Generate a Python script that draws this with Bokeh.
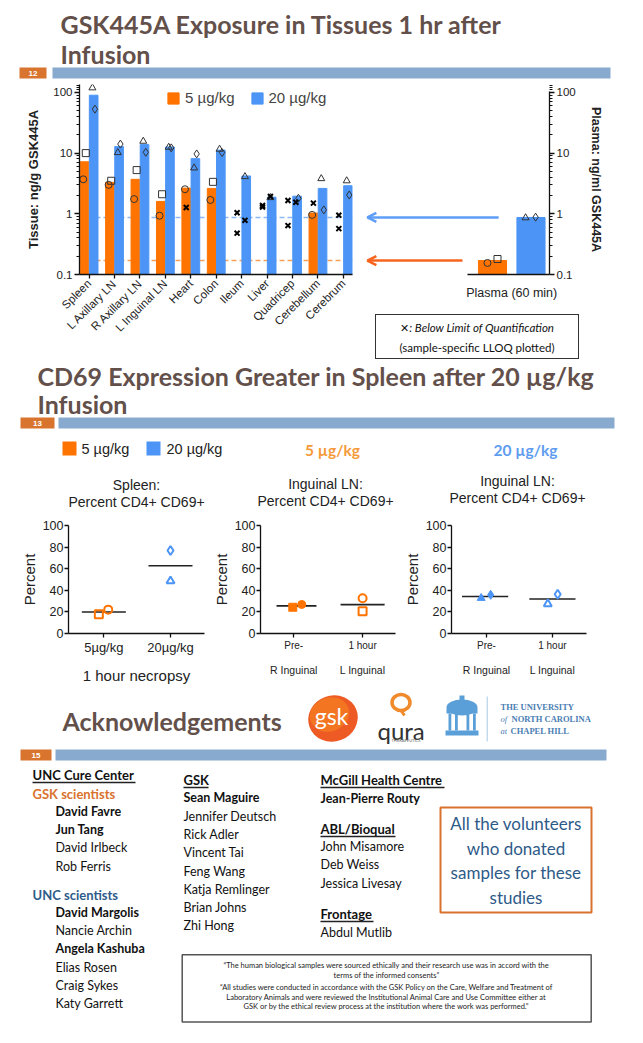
import math
import numpy as np
from bokeh.plotting import figure
from bokeh.models import (Range1d, FixedTicker, LinearAxis, Span, Arrow, OpenHead,
                          Legend, LegendItem, CustomJSTickFormatter, Div)
from bokeh.layouts import column, row
from bokeh.embed import file_html
from bokeh.resources import INLINE
from bokeh.core.properties import value

NAN = float("nan")

# ---------------- data: tissue exposure ----------------
tissues = ["Spleen", "L Axillary LN", "R Axillary LN", "L Inguinal LN", "Heart", "Colon",
           "Ileum", "Liver", "Quadricep", "Cerebellum", "Cerebrum"]
doses = ["5 \u00b5g/kg", "20 \u00b5g/kg"]
tissue_mean_5 = [7.2, 3.3, 3.7, 1.6, 2.65, 2.62, NAN, NAN, NAN, 1.03, NAN]
tissue_mean_20 = [90, 12.8, 13.8, 12.6, 8.1, 11.2, 4.2, 1.88, 1.95, 2.62, 2.9]
tissue_5_square = [10, 3.5, 5.25, 2.1, NAN, 3.36, NAN, NAN, NAN, NAN, NAN]
tissue_5_circle = [3.7, 3.0, 1.75, 0.93, 2.54, 1.69, NAN, NAN, NAN, 0.96, NAN]
tissue_5_blq_a = [NAN, NAN, NAN, NAN, 1.27, NAN, 1.04, 1.37, 1.66, 1.5, 0.95]
tissue_5_blq_b = [NAN, NAN, NAN, NAN, NAN, NAN, 0.48, 1.29, 0.64, NAN, 0.57]
tissue_20_triangle = [119, 10.2, 15.7, 12.5, 5.7, 11.6, 4.1, 1.85, NAN, 3.8, 3.5]
tissue_20_diamond = [53, 14.1, 10.3, 12.2, 9.7, 10.2, NAN, NAN, 1.8, 1.16, 2.04]
tissue_20_blq = [NAN, NAN, NAN, NAN, NAN, NAN, 0.78, 1.93, 1.55, NAN, NAN]
log_ticks = [0.1, 1, 10, 100]

plasma_label = "Plasma (60 min)"
plasma_mean = [0.17, 0.87]          # 5, 20 ug/kg
plasma_5 = [0.155, 0.18]            # circle, square
plasma_20 = [0.86, 0.88]            # triangle, diamond
note_lines = [": Below Limit of Quantification", "(sample-specific LLOQ plotted)"]

# ---------------- data: CD69 ----------------
spleen_labels = ["5\u00b5g/kg", "20\u00b5g/kg"]
spleen_5 = [17.8, 22.1]             # square, circle
spleen_20 = [76.9, 48.6]            # diamond, triangle
ln_labels = ["Pre-", "1 hour"]
ln_labels_2 = ["R Inguinal", "L Inguinal"]
ln5_pre = [24.3, 26.9]              # square, circle (filled)
ln5_1h = [20.7, 32.7]               # square, circle (open)
ln20_pre = [32.8, 35.8]             # triangle, diamond (filled)
ln20_1h = [27.4, 36.4]              # triangle, diamond (open)
pct_ticks = [0, 20, 40, 60, 80, 100]

# ---------------- text ----------------
title1 = ["GSK445A Exposure in Tissues 1 hr after", "Infusion"]
title2 = ["CD69 Expression Greater in Spleen after 20 \u00b5g/kg", "Infusion"]
col1 = [("UNC Cure Center", "head"), ("GSK scientists", "orange"), ("David Favre", "b"),
        ("Jun Tang", "b"), ("David Irlbeck", "n"), ("Rob Ferris", "n"), ("UNC scientists", "blue"),
        ("David Margolis", "b"), ("Nancie Archin", "n"), ("Angela Kashuba", "b"),
        ("Elias Rosen", "n"), ("Craig Sykes", "n"), ("Katy Garrett", "n")]
col2 = [("GSK", "head"), ("Sean Maguire", "b"), ("Jennifer Deutsch", "n"), ("Rick Adler", "n"),
        ("Vincent Tai", "n"), ("Feng Wang", "n"), ("Katja Remlinger", "n"), ("Brian Johns", "n"),
        ("Zhi Hong", "n")]
col3 = [("McGill Health Centre", "head"), ("Jean-Pierre Routy", "b"), ("ABL/Bioqual", "head"),
        ("John Misamore", "n"), ("Deb Weiss", "n"), ("Jessica Livesay", "n"), ("Frontage", "head"),
        ("Abdul Mutlib", "n")]
volunteers = ["All the volunteers", "who donated", "samples for these", "studies"]
quote = ["\u201cThe human biological samples were sourced ethically and their research use was in accord with the",
         "terms of the informed consents\u201d",
         "\u201cAll studies were conducted in accordance with the GSK Policy on the Care, Welfare and Treatment of",
         "Laboratory Animals and were reviewed the Institutional Animal Care and Use Committee either at",
         "GSK or by the ethical review process at the institution where the work was performed.\u201d"]

# ---------------- styles ----------------
ORANGE = "#FF7400"
BLUE = "#4C95F6"
BROWN = "#63504A"
SEC_OR = "#D9742F"
SEC_BL = "#88AACF"
DARK = "#111111"
SANS = "Liberation Sans"
POSTER = "Lato"


def deco(w, h):
    f = figure(width=w, height=h, x_range=Range1d(0, w), y_range=Range1d(h, 0),
               output_backend="svg", toolbar_location=None, min_border=0, title=None,
               x_axis_location=None, y_axis_location=None)
    f.grid.visible = False
    f.outline_line_color = None
    return f


def T(f, x, y, s, size, color=DARK, style="normal", font=POSTER, align="left", baseline="middle"):
    f.text(x=[x], y=[y], text=[s], text_font=value(font), text_font_size=size,
           text_font_style=style, text_color=color, text_align=align, text_baseline=baseline)


def box(f, x0, x1, y0, y1, color, fill=None, lw=1.0):
    f.quad(left=[x0], right=[x1], top=[y0], bottom=[y1], fill_color=fill,
           line_color=color, line_width=lw)


def section_bar(f, y0, y1, ox0, ox1, bx0, bx1, label):
    f.quad(left=[ox0], right=[ox1], top=[y0], bottom=[y1], fill_color=SEC_OR, line_color=None)
    f.quad(left=[bx0], right=[bx1], top=[y0], bottom=[y1], fill_color=SEC_BL, line_color=None)
    T(f, (ox0 + ox1) / 2, (y0 + y1) / 2 + 0.5, label, "8px", "white", "bold", SANS, "center")


def style_axis(ax, size="12px"):
    ax.axis_line_color = DARK
    ax.axis_line_width = 1.3
    ax.major_tick_line_color = DARK
    ax.major_tick_line_width = 1.3
    ax.major_tick_in = 0
    ax.major_tick_out = 4
    ax.minor_tick_line_color = None
    ax.major_label_text_font = SANS
    ax.major_label_text_font_size = size
    ax.major_label_text_color = "#222222"
    ax.axis_label_text_font = SANS
    ax.axis_label_text_color = "#222222"
    ax.axis_label_text_font_style = "normal"


# ================= header 1 =================
h1 = deco(627, 76)
T(h1, 52, 15, title1[0], "25px", BROWN, "bold")
T(h1, 52, 45, title1[1], "25px", BROWN, "bold")
section_bar(h1, 59, 70, 11, 38, 44, 602, "12")

# ================= tissue chart =================
x_idx = np.arange(len(tissues))
OFF = 0.18
p1 = figure(width=354, height=276, x_range=Range1d(-0.377, 10.358), y_range=Range1d(0.1, 135),
            y_axis_type="log", output_backend="svg", toolbar_location=None, title=None,
            min_border_left=71, min_border_right=10, min_border_top=0, min_border_bottom=86)
p1.grid.visible = False
p1.outline_line_color = None
p1.add_layout(Span(location=plasma_mean[1], dimension="width", line_color="#8DB8F5",
                   line_dash="5 3", line_width=1.6, level="underlay"))
p1.add_layout(Span(location=plasma_mean[0], dimension="width", line_color="#F7A05A",
                   line_dash="5 3", line_width=1.6, level="underlay"))
r5 = p1.vbar(x=x_idx - OFF, top=tissue_mean_5, bottom=0.1, width=0.34, fill_color=ORANGE,
             line_color=ORANGE)
r20 = p1.vbar(x=x_idx + OFF, top=tissue_mean_20, bottom=0.1, width=0.34, fill_color=BLUE,
              line_color=BLUE)
MK = dict(size=7, fill_color=None, line_color="#333333", line_width=1)
p1.scatter(x_idx - OFF + 0.05, tissue_5_square, marker="square", **MK)
p1.scatter(x_idx - OFF - 0.05, tissue_5_circle, marker="circle", **MK)
p1.scatter(x_idx + OFF - 0.05, tissue_20_triangle, marker="triangle", **MK)
p1.scatter(x_idx + OFF + 0.05, tissue_20_diamond, marker="diamond", size=8, fill_color=None,
           line_color="#333333", line_width=1)
XK = dict(marker="x", size=7, line_color="#000000", line_width=2)
p1.scatter(x_idx - OFF, tissue_5_blq_a, **XK)
p1.scatter(x_idx - OFF, tissue_5_blq_b, **XK)
p1.scatter(x_idx + OFF - 0.05, tissue_20_blq, **XK)

style_axis(p1.xaxis[0], "11.5px")
p1.xaxis.ticker = FixedTicker(ticks=list(range(len(tissues))))
p1.xaxis.major_label_overrides = {i: t for i, t in enumerate(tissues)}
p1.xaxis.major_label_orientation = math.pi / 4
p1.xaxis.major_label_standoff = 3
minor = [m * 10.0 ** e for e in (-1, 0, 1) for m in range(2, 10)] + [110, 120, 130]
style_axis(p1.yaxis[0], "11.5px")
p1.yaxis.ticker = FixedTicker(ticks=log_ticks, minor_ticks=minor)
p1.yaxis.formatter = CustomJSTickFormatter(code="return String(tick)")
p1.yaxis.minor_tick_line_color = DARK
p1.yaxis.minor_tick_out = 3
p1.yaxis.minor_tick_in = 0
p1.yaxis.major_tick_out = 5
p1.yaxis.major_label_standoff = 2
p1.yaxis.axis_label = "Tissue: ng/g GSK445A"
p1.yaxis.axis_label_text_font_style = "bold"
p1.yaxis.axis_label_text_font_size = "13px"
p1.yaxis.axis_label_standoff = 9

legend = Legend(items=[LegendItem(label=value(doses[0]), renderers=[r5]),
                       LegendItem(label=value(doses[1]), renderers=[r20])],
                orientation="horizontal", location=(87, 168), padding=0, margin=0, spacing=15,
                glyph_width=14, glyph_height=14, label_height=14, label_standoff=5,
                label_text_font=SANS, label_text_font_size="15px",
                border_line_color=None, background_fill_alpha=0)
p1.add_layout(legend)

# ================= plasma chart =================
p2 = figure(width=273, height=221, x_range=Range1d(-3.377, 1.481), y_range=Range1d(0.1, 135),
            y_axis_type="log", y_axis_location="right", output_backend="svg",
            toolbar_location=None, title=None, min_border_left=0, min_border_right=86,
            min_border_top=0, min_border_bottom=31)
p2.grid.visible = False
p2.outline_line_color = None
p2.vbar(x=[0, 1], top=plasma_mean, bottom=0.1, width=0.73, fill_color=[ORANGE, BLUE],
        line_color=[ORANGE, BLUE])
p2.scatter([-0.13], [plasma_5[0]], marker="circle", **MK)
p2.scatter([0.13], [plasma_5[1]], marker="square", **MK)
p2.scatter([0.86], [plasma_20[0]], marker="triangle", **MK)
p2.scatter([1.12], [plasma_20[1]], marker="diamond", size=8, fill_color=None,
           line_color="#333333", line_width=1)
p2.add_layout(Arrow(end=OpenHead(size=9, line_color="#5C9EF8", line_width=2.5),
                    x_start=0.16, y_start=plasma_mean[1], x_end=-3.25, y_end=plasma_mean[1],
                    line_color="#5C9EF8", line_width=2.5))
p2.add_layout(Arrow(end=OpenHead(size=9, line_color="#F7641E", line_width=2.5),
                    x_start=-0.78, y_start=plasma_mean[0], x_end=-3.25, y_end=plasma_mean[0],
                    line_color="#F7641E", line_width=2.5))
style_axis(p2.xaxis[0], "12.5px")
p2.xaxis.bounds = (-0.65, 1.481)
p2.xaxis.ticker = FixedTicker(ticks=[0.5])
p2.xaxis.major_label_overrides = {0.5: plasma_label}
p2.xaxis.major_tick_out = 0
p2.xaxis.major_label_standoff = 11
style_axis(p2.yaxis[0], "11.5px")
p2.yaxis.bounds = (0.1, 105)
p2.yaxis.ticker = FixedTicker(ticks=log_ticks, minor_ticks=minor)
p2.yaxis.formatter = CustomJSTickFormatter(code="return String(tick)")
p2.yaxis.minor_tick_line_color = DARK
p2.yaxis.minor_tick_out = 3
p2.yaxis.minor_tick_in = 0
p2.yaxis.major_tick_out = 5
p2.yaxis.major_label_standoff = 2
p2.yaxis.axis_label = "Plasma: ng/ml GSK445A"
p2.yaxis.axis_label_text_font_style = "bold"
p2.yaxis.axis_label_text_font_size = "12.5px"
p2.yaxis.axis_label_standoff = 10

# note box under the plasma chart (HTML block with fixed pixel geometry)
note_html = (
    '<div style="margin:9px 0 0 13px;width:204px;height:45px;box-sizing:border-box;'
    'border:1.2px solid #333;font-family:Lato,sans-serif;font-size:11.5px;color:#111;'
    'text-align:center;line-height:19px;padding-top:3px;white-space:nowrap;">'
    '<span style="font-family:\'DejaVu Sans\',sans-serif;font-weight:bold;font-size:11px;">'
    '&#x2715;</span><i>' + note_lines[0] + '</i><br>' + note_lines[1] + '</div>'
)
note = Div(text=note_html, width=273, height=55, margin=0)

# ================= header 2 =================
h2 = deco(627, 152)
T(h2, 29, 15, title2[0], "25px", BROWN, "bold")
T(h2, 29, 43, title2[1], "25px", BROWN, "bold")
section_bar(h2, 57, 68, 12, 46, 50, 606, "13")
h2.quad(left=[54], right=[68], top=[81], bottom=[95], fill_color=ORANGE, line_color=None)
T(h2, 73, 88, doses[0], "14.5px", "#222222", font=SANS)
h2.quad(left=[138], right=[152], top=[81], bottom=[95], fill_color=BLUE, line_color=None)
T(h2, 158, 88, doses[1], "14.5px", "#222222", font=SANS)
T(h2, 324, 89, doses[0], "15.5px", "#F59A3A", "bold", align="center")
T(h2, 517, 89, doses[1], "15.5px", "#5E9CF0", "bold", align="center")
T(h2, 128, 124, "Spleen:", "14px", "#222222", font=SANS, align="center")
T(h2, 128, 141, "Percent CD4+ CD69+", "14px", "#222222", font=SANS, align="center")
T(h2, 317, 123, "Inguinal LN:", "14px", "#222222", font=SANS, align="center")
T(h2, 317, 140, "Percent CD4+ CD69+", "14px", "#222222", font=SANS, align="center")
T(h2, 509, 120, "Inguinal LN:", "14px", "#222222", font=SANS, align="center")
T(h2, 509, 137, "Percent CD4+ CD69+", "14px", "#222222", font=SANS, align="center")


# ================= CD69 charts =================
def pct_fig(w, xr, left, right, top, fh):
    p = figure(width=w, height=178, x_range=Range1d(*xr), y_range=Range1d(0, 100),
               output_backend="svg", toolbar_location=None, title=None,
               min_border_left=left, min_border_right=right, min_border_top=top,
               min_border_bottom=178 - top - fh)
    p.grid.visible = False
    p.outline_line_color = None
    style_axis(p.yaxis[0], "12.5px")
    p.yaxis.ticker = FixedTicker(ticks=pct_ticks)
    p.yaxis.major_label_standoff = 1
    p.yaxis.axis_label = "Percent"
    p.yaxis.axis_label_text_font_size = "15px"
    p.yaxis.axis_label_standoff = 2
    style_axis(p.xaxis[0], "10px")
    p.xaxis.ticker = FixedTicker(ticks=[0, 1])
    p.xaxis.major_label_standoff = 2
    return p


def mean_line(p, c, vals, hw):
    m = float(np.mean(vals))
    p.segment(x0=[c - hw], x1=[c + hw], y0=[m], y1=[m], line_color="#222222", line_width=1.6)


pA = pct_fig(201, (-0.53, 1.51), 60, 5, 13, 108)
pA.xaxis.major_label_overrides = {0: spleen_labels[0], 1: spleen_labels[1]}
pA.xaxis.major_label_text_font_size = "13px"
pA.xaxis.axis_label = "1 hour necropsy"
pA.xaxis.axis_label_text_font_size = "15px"
pA.xaxis.axis_label_standoff = 9
mean_line(pA, 0, spleen_5, 0.33)
mean_line(pA, 1, spleen_20, 0.33)
OM = dict(size=8, line_width=2, fill_color=None)
pA.scatter([-0.075], [spleen_5[0]], marker="square", line_color=ORANGE, **OM)
pA.scatter([0.066], [spleen_5[1]], marker="circle", line_color=ORANGE, **OM)
pA.scatter([1.0], [spleen_20[0]], marker="diamond", line_color=BLUE, size=9, line_width=2,
           fill_color=None)
pA.scatter([1.0], [spleen_20[1]], marker="triangle", line_color=BLUE, **OM)


def second_axis(p):
    ax = LinearAxis(ticker=FixedTicker(ticks=[0, 1]),
                    major_label_overrides={0: ln_labels_2[0], 1: ln_labels_2[1]})
    ax.axis_line_color = None
    ax.major_tick_line_color = None
    ax.minor_tick_line_color = None
    ax.major_tick_out = 0
    ax.major_tick_in = 0
    ax.major_label_standoff = 10
    ax.major_label_text_font = SANS
    ax.major_label_text_font_size = "10.5px"
    ax.major_label_text_color = "#222222"
    p.add_layout(ax, "below")


pB = pct_fig(191, (-0.483, 1.478), 44, 5, 11, 112)
pB.xaxis.major_label_overrides = {0: ln_labels[0], 1: ln_labels[1]}
second_axis(pB)
mean_line(pB, 0.04, ln5_pre, 0.29)
mean_line(pB, 1, ln5_1h, 0.32)
FM = dict(size=8, line_width=1)
pB.scatter([-0.014], [ln5_pre[0]], marker="square", line_color=ORANGE, fill_color=ORANGE, **FM)
pB.scatter([0.116], [ln5_pre[1]], marker="circle", line_color=ORANGE, fill_color=ORANGE, **FM)
pB.scatter([1.0], [ln5_1h[0]], marker="square", line_color=ORANGE, **OM)
pB.scatter([1.0], [ln5_1h[1]], marker="circle", line_color=ORANGE, **OM)

pC = pct_fig(235, (-0.53, 1.517), 46, 49, 10, 112)
pC.xaxis.major_label_overrides = {0: ln_labels[0], 1: ln_labels[1]}
second_axis(pC)
mean_line(pC, -0.02, ln20_pre, 0.35)
mean_line(pC, 1, ln20_1h, 0.35)
pC.scatter([-0.08], [ln20_pre[0]], marker="triangle", line_color=BLUE, fill_color=BLUE, **FM)
pC.scatter([0.064], [ln20_pre[1]], marker="diamond", line_color=BLUE, fill_color=BLUE, size=9,
           line_width=1)
pC.scatter([0.93], [ln20_1h[0]], marker="triangle", line_color=BLUE, **OM)
pC.scatter([1.08], [ln20_1h[1]], marker="diamond", line_color=BLUE, size=9, line_width=2,
           fill_color=None)

# ================= header 3 (acknowledgements + logos) =================
h3 = deco(627, 72)
T(h3, 54, 30, "Acknowledgements", "25px", BROWN, "bold")
# gsk logo
h3.ellipse(x=[324.5], y=[28], width=[50], height=[46], angle=[0.35], fill_color="#EE5A24",
           line_color=None)
h3.ellipse(x=[321], y=[24], width=[40], height=[34], angle=[0.35], fill_color="#F47B20",
           line_color=None, fill_alpha=0.8)
T(h3, 323, 25, "gsk", "23px", "white", "normal", align="center")
# qura logo
h3.ellipse(x=[392.5], y=[12], width=[18], height=[16], fill_color=None, line_color="#F08A2B",
           line_width=3.5)
h3.segment(x0=[392.5], y0=[20], x1=[396], y1=[25], line_color="#F08A2B", line_width=3)
T(h3, 369, 40, "qura", "24px", "#333333")
T(h3, 383, 50, "THERAPEUTICS", "4px", "#666666")
# UNC old well
WB = "#5B9FD8"
h3.ellipse(x=[453.5], y=[17], width=[31], height=[16], fill_color=WB, line_color=None)
h3.quad(left=[451], right=[456], top=[5], bottom=[11], fill_color=WB, line_color=None)
h3.quad(left=[438], right=[469], top=[18], bottom=[23], fill_color=WB, line_color=None)
for c0 in (440, 446.5, 458, 464.5):
    h3.quad(left=[c0], right=[c0 + 2.8], top=[23], bottom=[40], fill_color=WB, line_color=None)
h3.quad(left=[437], right=[470], top=[40], bottom=[45], fill_color=WB, line_color=None)
h3.segment(x0=[478.7], y0=[6], x1=[478.7], y1=[51], line_color="#A8C8E4", line_width=1)
UC = "#4A7EB3"
SER = "Liberation Serif"
T(h3, 492, 16, "THE UNIVERSITY", "8.5px", UC, "bold", SER)
T(h3, 492, 28, "of", "8.5px", UC, "italic", SER)
T(h3, 503, 28, "NORTH CAROLINA", "8.5px", UC, "bold", SER)
T(h3, 492, 40, "at", "8.5px", UC, "italic", SER)
T(h3, 502, 40, "CHAPEL HILL", "8.5px", UC, "bold", SER)
section_bar(h3, 59, 70, 12, 43, 47, 598, "15")

# ================= acknowledgement text =================
tx = deco(627, 273)


def name_col(f, items, x_head, x_name, y_list, underline):
    for (s, kind), y in zip(items, y_list):
        if kind == "head":
            T(f, x_head, y, s, "13px", DARK, "bold")
            f.segment(x0=[x_head], x1=[x_head + underline[s]], y0=[y + 8], y1=[y + 8],
                      line_color="#222222", line_width=1.4)
        elif kind == "orange":
            T(f, x_head, y, s, "13px", "#D9722E", "bold")
        elif kind == "blue":
            T(f, x_head, y, s, "13px", "#2E5C8A", "bold")
        elif kind == "b":
            T(f, x_name, y, s, "12.5px", DARK, "bold")
        else:
            T(f, x_name, y, s, "12.5px", DARK, "normal")


ul = {"UNC Cure Center": 103, "GSK": 25, "McGill Health Centre": 124, "ABL/Bioqual": 75,
      "Frontage": 53}
y1 = [12, 31, 49, 67, 85, 104, 132, 150, 168, 186, 205, 223, 241]
y2 = [17 + 18.3 * k for k in range(9)]
y3 = [17, 36, 66, 84, 102, 121, 151, 170]
name_col(tx, col1, 24, 47, y1, ul)
name_col(tx, col2, 175, 175, y2, ul)
name_col(tx, col3, 312, 312, y3, ul)

box(tx, 432, 583, 45, 150, "#D9722E", fill="white", lw=2)
for s, y in zip(volunteers, [61, 86, 110, 135]):
    T(tx, 507.5, y, s, "17px", "#2E5A88", align="center")

box(tx, 173.7, 582.7, 192.3, 259.5, "#555555", fill="white", lw=1.5)
for s, y in zip(quote, [203, 212.5, 225.3, 234.7, 244]):
    T(tx, 378, y, s, "7.5px", "#222222", align="center")

# ================= layout =================
layout = column(
    h1,
    row(p1, column(p2, note)),
    h2,
    row(pA, pB, pC),
    h3,
    tx,
    margin=(8, 8, 0, 8),
)

open("out.html", "w").write(file_html(layout, INLINE))
